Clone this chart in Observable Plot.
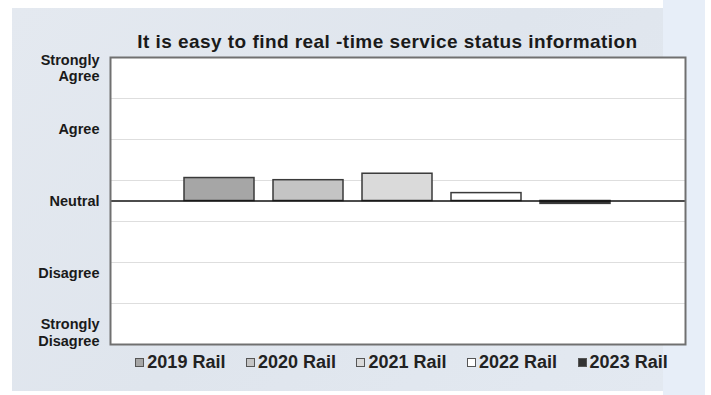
<!DOCTYPE html>
<html>
<head>
<meta charset="utf-8">
<script src="https://cdn.jsdelivr.net/npm/d3@7"></script>
<script src="https://cdn.jsdelivr.net/npm/@observablehq/plot@0.6"></script>
<style>
  html, body { margin: 0; padding: 0; background: #ffffff; }
  #wrap { position: relative; width: 711px; height: 395px; overflow: hidden; font-family: "Liberation Sans", Arial, sans-serif; }
  #strip { position: absolute; left: 663px; top: 0; width: 42px; height: 395px; background: #e7eef8; }
  #panel { position: absolute; left: 12px; top: 8px; width: 651px; height: 383px; background: linear-gradient(135deg, #e4e9f0 0%, #dfe5ed 50%, #e3e9f1 100%); }
  #chart { position: absolute; left: 0; top: 0; }
  #title { position: absolute; left: 100px; width: 575px; top: 31px; text-align: center; font-weight: bold; font-size: 19px; letter-spacing: 0.45px; color: #1a1a1a; white-space: nowrap; }
  #legend { position: absolute; left: 114px; width: 575px; top: 352px; display: flex; justify-content: center; gap: 20.5px; font-weight: bold; font-size: 18px; color: #222; white-space: nowrap; }
  .item { display: flex; align-items: center; gap: 3px; }
  .sw { width: 9px; height: 9px; border: 1.5px solid #555; box-sizing: border-box; display: inline-block; }
</style>
</head>
<body>
<div id="wrap">
  <div id="strip"></div>
  <div id="panel"></div>
  <div id="chart"></div>
  <div id="title">It is easy to find real -time service status information</div>
  <div id="legend"></div>
</div>
<script>
const series = ["2019 Rail", "2020 Rail", "2021 Rail", "2022 Rail", "2023 Rail"];
const values = [3.32, 3.29, 3.38, 3.11, 2.96];
const fills = ["#a6a6a6", "#c4c4c4", "#dadada", "#ffffff", "#333333"];
const levelValues = [5, 4, 3, 2, 1];
const levelLabels = ["Strongly\nAgree", "Agree", "Neutral", "Disagree", "Strongly\nDisagree"];
const neutral = 3;

const data = series.map((s, i) => ({series: s, value: values[i]}));
const labels = levelValues.map((v, i) => ({v, label: levelLabels[i]}));
const grid = d3.range(1, 7).map(k => 1 + k * 4 / 7);

const labelStyle = {fontFamily: "Liberation Sans, Arial, sans-serif", fontWeight: "bold", fontSize: 14.5, fill: "#1a1a1a", textAnchor: "end", frameAnchor: "left", dx: -11, lineHeight: 1.12};

const chart = Plot.plot({
  width: 711,
  height: 395,
  marginTop: 57,
  marginLeft: 110,
  marginRight: 26,
  marginBottom: 51,
  style: {background: "transparent", overflow: "visible"},
  x: {domain: series, paddingInner: 0.21, paddingOuter: 0.8, axis: null},
  y: {domain: [1, 5], axis: null},
  color: {domain: series, range: fills},
  marks: [
    Plot.frame({fill: "#ffffff", stroke: null}),
    Plot.ruleY(grid, {stroke: "#dedede", strokeWidth: 1}),
    Plot.barY(data, {x: "series", y1: neutral, y2: "value", fill: "series", stroke: "#3a3a3a", strokeWidth: 1.5}),
    Plot.ruleY([neutral], {stroke: "#111", strokeWidth: 1.5}),
    Plot.frame({stroke: "#707070", strokeWidth: 2}),
    Plot.text(labels.filter(d => d.v === 5), {...labelStyle, y: "v", text: "label", lineAnchor: "top", dy: -4}),
    Plot.text(labels.filter(d => d.v > 1 && d.v < 5), {...labelStyle, y: "v", text: "label", lineAnchor: "middle"}),
    Plot.text(labels.filter(d => d.v === 1), {...labelStyle, y: "v", text: "label", lineAnchor: "bottom", dy: 1}),
  ]
});
document.getElementById("chart").appendChild(chart);

const legend = document.getElementById("legend");
series.forEach((s, i) => {
  const item = document.createElement("span");
  item.className = "item";
  const sw = document.createElement("span");
  sw.className = "sw";
  sw.style.background = fills[i];
  const t = document.createElement("span");
  t.textContent = s;
  item.appendChild(sw);
  item.appendChild(t);
  legend.appendChild(item);
});
</script>
</body>
</html>
